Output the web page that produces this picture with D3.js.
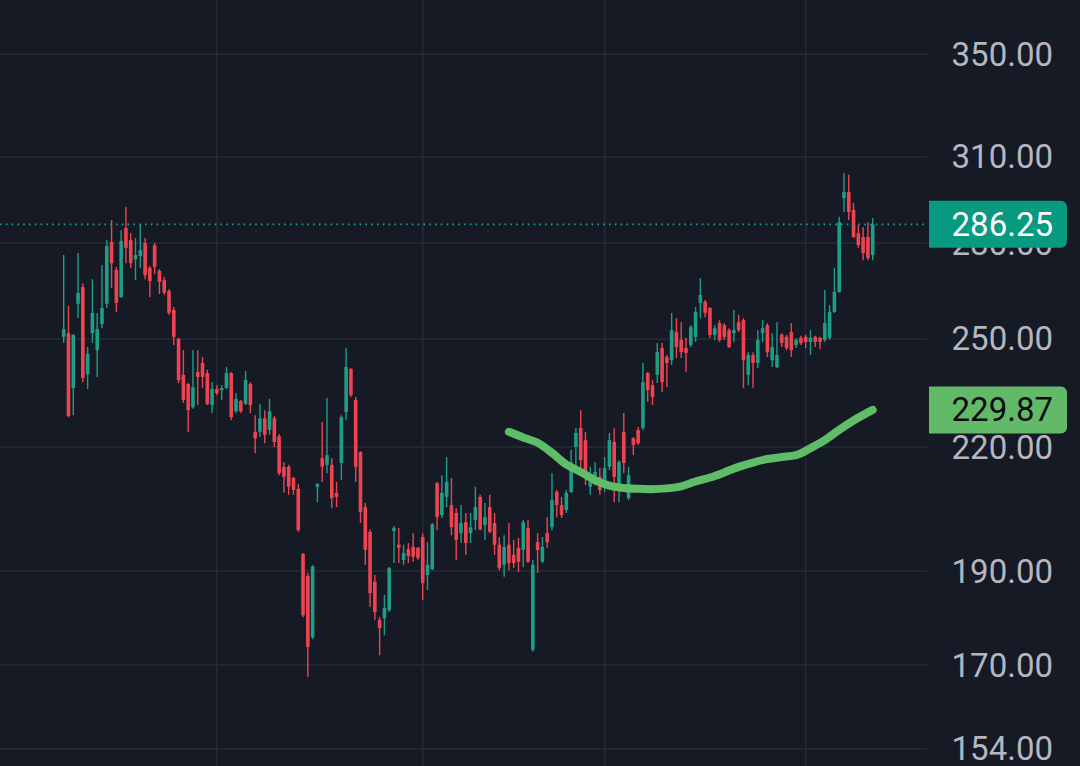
<!DOCTYPE html>
<html>
<head>
<meta charset="utf-8">
<script src="https://cdn.jsdelivr.net/npm/d3@7/dist/d3.min.js"></script>
<style>
  html, body { margin: 0; padding: 0; background: #161a25; }
  svg { display: block; }
</style>
</head>
<body>
<svg id="chart" width="1080" height="766"></svg>
<script>
// ---- data ----
const opens = [250.6,251.7,235.9,260.6,265.8,239.8,251.7,246.7,254.4,260.6,280.3,271.2,262.7,285.0,281.0,274.7,275.7,280.0,271.8,279.3,
270.9,268.0,264.6,258.7,250.0,239.6,237.0,230.6,240.4,243.0,240.1,231.2,235.6,235.3,235.9,240.1,229.5,232.3,231.5,237.0,
224.0,224.0,227.6,224.5,227.6,222.8,214.9,214.9,212.1,209.4,193.9,188.9,175.7,209.9,217.1,215.4,215.4,208.4,215.9,229.3,
241.3,232.6,218.7,204.9,199.0,187.6,179.3,179.7,181.4,199.2,196.0,192.5,195.0,195.5,195.3,197.8,189.1,190.4,210.8,203.0,
207.4,205.4,203.5,198.7,201.3,198.7,201.8,207.4,200.6,204.9,201.1,196.0,191.4,196.0,193.7,195.3,194.8,199.9,173.1,196.6,
192.1,198.7,200.1,208.6,205.4,204.2,208.6,220.0,225.0,221.8,209.9,211.1,212.4,210.3,214.9,221.3,209.9,224.0,207.1,222.3,
224.5,225.0,240.1,236.7,239.6,247.3,244.7,243.8,252.0,249.7,247.3,248.2,250.6,260.9,261.2,259.3,251.2,254.7,254.1,252.6,
251.7,255.0,255.6,239.6,245.3,243.0,251.7,254.1,243.8,241.8,251.2,250.6,252.0,248.2,250.3,250.6,249.1,250.6,250.3,249.7,
250.3,258.1,264.3,295.3,297.4,291.2,283.3,282.0,282.0,276.1];
const highs = [276.1,259.9,251.4,276.7,267.0,247.6,268.3,257.8,272.8,281.0,287.7,272.2,284.3,292.2,283.3,281.7,286.3,281.7,272.5,280.0,
271.5,269.0,265.2,259.6,250.3,246.7,237.3,246.7,246.7,244.7,241.0,237.5,236.7,236.7,241.8,240.4,234.5,232.6,240.7,237.5,
228.4,231.5,229.8,232.9,228.2,223.4,216.1,215.4,212.4,210.6,194.1,189.6,191.3,210.8,226.6,233.1,217.1,211.1,228.4,247.3,
241.5,233.4,218.9,205.9,199.6,189.1,179.9,184.7,190.9,200.4,199.9,196.0,196.4,198.7,195.5,198.7,196.6,201.1,211.1,212.8,
217.4,212.1,204.7,205.4,203.5,203.5,209.9,207.9,205.9,207.9,203.5,197.8,198.2,201.1,197.1,197.6,201.8,201.8,192.5,198.7,
197.8,202.5,213.3,209.1,207.4,209.1,219.2,225.0,229.8,224.0,214.9,216.1,214.6,217.4,223.7,225.0,216.6,229.0,214.9,222.6,
225.3,243.0,240.4,238.1,248.8,248.8,245.3,257.8,256.2,255.0,250.3,254.1,259.6,268.6,261.8,259.6,254.1,255.6,254.7,253.2,
258.7,257.2,256.2,246.1,246.1,252.6,255.6,254.7,251.7,255.0,251.7,251.2,254.7,250.3,250.9,251.2,252.6,250.9,250.6,264.9,
260.2,271.8,288.8,304.2,303.5,293.6,286.0,285.4,287.0,288.4];
const lows = [248.8,227.9,228.4,256.2,237.5,235.6,248.8,239.0,253.2,259.3,265.5,258.1,262.4,273.4,271.8,268.0,271.8,268.3,262.7,269.9,
263.6,263.3,257.2,248.2,237.3,231.8,224.0,230.2,231.2,235.9,231.2,229.0,233.9,232.6,235.6,227.1,229.0,229.0,231.2,229.0,
218.4,222.6,221.0,223.2,220.0,212.8,208.4,207.9,207.9,199.0,179.9,167.6,175.3,206.1,211.1,213.3,204.7,204.9,211.6,227.1,
233.4,211.1,201.1,191.4,182.1,179.3,172.0,176.1,181.0,191.8,191.8,191.4,191.8,192.1,192.5,183.6,185.8,190.2,199.4,202.3,
204.9,198.2,192.5,196.4,193.7,196.4,199.4,199.4,197.1,198.7,193.7,190.2,188.7,190.2,190.7,189.8,190.9,191.8,172.7,189.6,
191.8,195.3,199.4,202.5,202.3,203.5,208.4,213.3,214.1,210.3,207.9,210.3,207.9,208.6,214.1,206.1,206.1,213.3,206.6,217.9,
220.5,224.5,232.0,231.2,237.3,234.8,236.1,242.4,244.4,244.4,240.4,247.6,249.1,256.2,256.5,250.3,249.7,249.1,249.7,247.3,
249.1,252.0,235.9,236.7,235.9,241.5,249.1,244.7,241.8,241.5,247.6,246.7,244.7,247.3,248.2,247.3,245.3,247.6,247.0,249.1,
249.7,257.8,264.0,290.5,287.7,281.7,278.4,274.4,274.4,274.4];
const closes = [252.9,228.2,251.2,264.0,238.7,245.6,257.8,252.9,259.3,279.0,273.4,260.9,280.7,278.4,273.4,276.1,277.7,269.6,267.7,272.2,
267.4,264.0,257.8,250.6,238.1,232.6,229.8,236.1,239.0,239.0,231.5,235.6,234.5,235.9,240.1,227.9,232.9,229.5,238.1,231.2,
222.3,227.6,223.2,229.5,221.3,213.3,212.4,209.9,209.1,199.4,180.3,173.7,191.1,210.6,214.9,217.9,207.1,207.4,227.9,241.8,
233.9,214.9,203.7,194.8,185.1,181.0,177.6,181.9,190.7,199.9,195.3,194.1,193.4,193.2,193.0,187.3,191.4,200.8,202.5,208.4,
211.1,200.1,197.1,201.1,196.4,200.1,204.9,199.6,202.5,199.0,196.0,190.7,195.5,191.8,191.8,192.1,201.3,192.1,191.4,194.8,
195.5,196.6,206.6,205.4,203.0,208.4,216.1,223.7,216.6,212.4,212.4,213.6,209.1,214.6,221.8,212.4,216.1,215.9,212.8,220.5,
221.0,237.5,235.3,233.4,246.1,237.5,243.0,252.6,247.6,246.1,245.9,253.5,258.1,263.3,257.8,251.2,253.2,249.7,250.6,247.6,
252.6,252.6,243.8,245.3,243.0,249.7,253.2,246.1,247.6,245.3,248.8,247.3,246.7,249.7,248.8,249.1,250.3,249.1,249.1,254.7,
258.1,264.3,287.0,297.4,290.5,282.0,279.3,276.7,275.1,286.25];

// moving average (bar index, value)
const maIndex = [93,96,99,102,105,108,111,114,117,120,123,126,129,132,135,138,141,144,147,150,153,156,159,162,165,169];
const maValue = [224.0,222.5,221.1,218.5,215.5,213.6,211.5,210.2,209.6,209.4,209.3,209.5,210.0,211.2,212.2,213.5,214.9,216.0,216.9,217.4,217.9,219.7,221.8,224.5,227.0,229.87];

const yTicks = [154, 170, 190, 220, 250, 280, 310, 350];
const xGridIndex = [32, 75, 113, 155];
const lastPrice = 286.25;
const lastMA = 229.87;

// ---- drawing ----
const W = 1080, H = 766;
const plotRight = 927;
const svg = d3.select("#chart");

const x = d3.scaleLinear().domain([0, closes.length - 1]).range([63.7, 872.7]);
const y = d3.scaleLog().domain([154, 350]).range([748.7, 54.3]);

svg.append("rect").attr("width", W).attr("height", H).attr("fill", "#161a25");

// grid
const grid = svg.append("g").attr("stroke", "#272b36").attr("stroke-width", 1.5);
grid.selectAll("line.h").data(yTicks).join("line")
  .attr("x1", 0).attr("x2", plotRight)
  .attr("y1", d => y(d)).attr("y2", d => y(d));
grid.selectAll("line.v").data(xGridIndex).join("line")
  .attr("x1", d => x(d)).attr("x2", d => x(d))
  .attr("y1", 0).attr("y2", H);

// candles
const upColor = "#1e9d87", downColor = "#ee4452";
const candles = svg.append("g");
const idx = d3.range(closes.length);
candles.selectAll("line.wick").data(idx).join("line")
  .attr("x1", i => x(i)).attr("x2", i => x(i))
  .attr("y1", i => y(highs[i])).attr("y2", i => y(lows[i]))
  .attr("stroke", i => closes[i] >= opens[i] ? upColor : downColor)
  .attr("stroke-width", 1.4);
candles.selectAll("rect.body").data(idx).join("rect")
  .attr("x", i => x(i) - 1.8).attr("width", 3.6)
  .attr("y", i => y(Math.max(opens[i], closes[i])))
  .attr("height", i => Math.max(1.5, Math.abs(y(opens[i]) - y(closes[i]))))
  .attr("fill", i => closes[i] >= opens[i] ? upColor : downColor);

// moving average
const maLine = d3.line()
  .x((d, k) => x(maIndex[k]))
  .y(d => y(d))
  .curve(d3.curveMonotoneX);
svg.append("path").datum(maValue)
  .attr("d", maLine)
  .attr("fill", "none")
  .attr("stroke", "#60bd67")
  .attr("stroke-width", 8)
  .attr("stroke-linecap", "round")
  .attr("stroke-linejoin", "round");

// last price dotted line
svg.append("line")
  .attr("x1", 0).attr("x2", plotRight)
  .attr("y1", y(lastPrice)).attr("y2", y(lastPrice))
  .attr("stroke", "#1aa48d").attr("stroke-width", 1.6)
  .attr("stroke-dasharray", "1.6,4.2");

// axis labels
const fmt = d3.format(".2f");
svg.append("g").selectAll("text").data(yTicks).join("text")
  .attr("x", 1053).attr("y", d => y(d))
  .attr("dy", "0.35em")
  .attr("text-anchor", "end")
  .attr("font-family", "Roboto, 'Noto Sans', sans-serif")
  .attr("font-size", 33)
  .attr("fill", "#b4b7c0")
  .text(d => fmt(d));

// price tags
function tag(value, bg, fg) {
  const cy = y(value), h = 47, x0 = 929, x1 = 1067, r = 6;
  const top = cy - h / 2, bot = cy + h / 2;
  const p = d3.path();
  p.moveTo(x0, top);
  p.lineTo(x1 - r, top);
  p.arcTo(x1, top, x1, top + r, r);
  p.lineTo(x1, bot - r);
  p.arcTo(x1, bot, x1 - r, bot, r);
  p.lineTo(x0, bot);
  p.closePath();
  svg.append("path").attr("d", p.toString()).attr("fill", bg);
  svg.append("text")
    .attr("x", 1053).attr("y", cy).attr("dy", "0.35em")
    .attr("text-anchor", "end")
    .attr("font-family", "Roboto, 'Noto Sans', sans-serif")
    .attr("font-size", 33)
    .attr("fill", fg)
    .text(fmt(value));
}
tag(lastPrice, "#089981", "#ffffff");
tag(lastMA, "#62b968", "#0b0d10");
</script>
</body>
</html>
